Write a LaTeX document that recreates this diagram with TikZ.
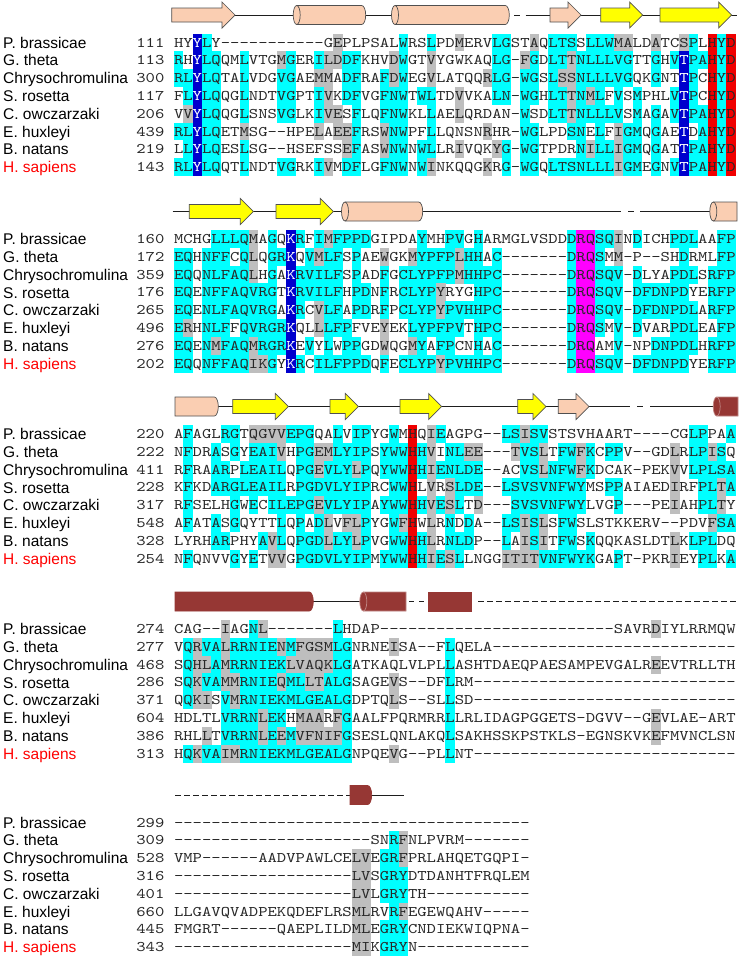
\documentclass[tikz,border=0pt]{standalone}
\usepackage{fontspec}
\newfontfamily\namefont{Liberation Sans}
\newfontfamily\seqfont{lmmono10-regular.otf}[FakeStretch=1.21]
\definecolor{shc}{RGB}{0,255,255}
\definecolor{shg}{RGB}{190,190,190}
\definecolor{shb}{RGB}{0,0,205}
\definecolor{shr}{RGB}{240,0,0}
\definecolor{shm}{RGB}{255,0,255}
\definecolor{seqtxt}{RGB}{40,40,40}
\definecolor{sspeach}{RGB}{250,206,178}
\definecolor{ssyellow}{RGB}{255,255,0}
\definecolor{ssdred}{RGB}{150,55,52}
\definecolor{ssedge}{RGB}{80,80,80}
\definecolor{sslinecol}{RGB}{30,30,30}
\tikzset{
  seqch/.style={inner sep=0pt,anchor=base,font=\seqfont\fontsize{14.7}{17.8}\selectfont},
  namesty/.style={inner sep=0pt,anchor=base west,font=\namefont\fontsize{15.5}{17}\selectfont},
  numsty/.style={inner sep=0pt,anchor=base east,text=seqtxt,font=\seqfont\fontsize{14.7}{17.8}\selectfont},
  ssl/.style={draw=sslinecol,line width=1pt},
  ssdash/.style={draw=sslinecol,line width=1pt,dash pattern=on 5.5pt off 3.5pt},
  ssshape/.style={line width=0.7pt}
}
\newcount\colno
\def\rowy{0}
\def\gobbleone#1{}
\def\firstofone#1{#1}
\def\doCell#1#2{%
  \if#2.\else\fill[sh#2] ({174+\the\colno*9.36},{-\rowy+8.95}) rectangle ++(9.42,-17.9);\fi
  \if#2b\def\tc{white}\else\def\tc{seqtxt}\fi
  \node[seqch,text=\tc] at ({178.68+\the\colno*9.36},{-\rowy-4.5}) {#1};%
  \global\advance\colno by 1\relax}
\def\procA#1#2\relax#3#4\relax{\doCell{#1}{#3}\ifx\relax#2\relax\expandafter\gobbleone\else\expandafter\firstofone\fi{\procA#2\relax#4\relax}}
\newcommand\seqline[7]{%
  \pgfmathsetmacro\rowy{#1+27.5+17.8*#2}%
  \node[namesty,text=#3] at (3,{-\rowy-5.6}) {#4};%
  \node[numsty] at (164.6,{-\rowy-4.5}) {#5};%
  \global\colno=0\relax
  \procA#6\relax#7\relax}
% secondary structure elements
\newcommand\ssarrow[4]{%
  \filldraw[ssshape,fill=#4,draw=ssedge] (#1,#3+7) -- (#2-13,#3+7) -- (#2-13,#3+13) -- (#2,#3) -- (#2-13,#3-13) -- (#2-13,#3-7) -- (#1,#3-7) -- cycle;}
\newcommand\cylEE[5]{%
  \filldraw[ssshape,fill=#4,draw=#5] (#1,#3+9.5) -- (#2-4,#3+9.5) arc[start angle=90,end angle=-90,x radius=4,y radius=9.5] -- (#1,#3-9.5) arc[start angle=270,end angle=90,x radius=3.5,y radius=9.5] -- cycle;
  \draw[ssshape,draw=#5] (#1,#3-9.5) arc[start angle=-90,end angle=90,x radius=3.5,y radius=9.5];}
\newcommand\cylFR[5]{%
  \filldraw[ssshape,fill=#4,draw=#5] (#1,#3+9.5) -- (#2-4,#3+9.5) arc[start angle=90,end angle=-90,x radius=4,y radius=9.5] -- (#1,#3-9.5) -- cycle;}
\newcommand\cylEF[5]{%
  \filldraw[ssshape,fill=#4,draw=#5] (#1,#3+9.5) -- (#2,#3+9.5) -- (#2,#3-9.5) -- (#1,#3-9.5) arc[start angle=270,end angle=90,x radius=3.5,y radius=9.5] -- cycle;
  \draw[ssshape,draw=#5] (#1,#3-9.5) arc[start angle=-90,end angle=90,x radius=3.5,y radius=9.5];}
\newcommand\cylFF[5]{%
  \filldraw[ssshape,fill=#4,draw=#5] (#1,#3+9.5) rectangle (#2,#3-9.5);}
\begin{document}
\begin{tikzpicture}[x=1pt,y=1pt]
\useasboundingbox (0,0) rectangle (742,-959);
\fill[white] (0,0) rectangle (742,-959);
% ---------- block 1 header ----------
\draw[ssl] (171.7,-15) -- (509,-15);
\draw[ssl] (514,-15) -- (520,-15);
\draw[ssl] (525.7,-15) -- (737,-15);
\ssarrow{171.7}{235}{-15}{sspeach}
\cylEE{296.7}{365.7}{-15}{sspeach}{ssedge}
\cylEE{395}{509.3}{-15}{sspeach}{ssedge}
\ssarrow{550}{581}{-15}{sspeach}
\ssarrow{600.7}{642.7}{-15}{ssyellow}
\ssarrow{660}{731.7}{-15}{ssyellow}
% ---------- block 2 header ----------
\draw[ssl] (172.7,-211.5) -- (621,-211.5);
\draw[ssl] (628,-211.5) -- (634,-211.5);
\draw[ssl] (640,-211.5) -- (714,-211.5);
\ssarrow{189.3}{253.3}{-211.5}{ssyellow}
\ssarrow{276}{333.3}{-211.5}{ssyellow}
\cylEE{345}{422.7}{-211.5}{sspeach}{ssedge}
\cylEF{713.3}{737}{-211.5}{sspeach}{ssedge}
% ---------- block 3 header ----------
\draw[ssl] (218,-406.5) -- (630,-406.5);
\draw[ssl] (637,-406.5) -- (643,-406.5);
\draw[ssl] (650,-406.5) -- (717,-406.5);
\cylFR{175}{218.3}{-406.5}{sspeach}{ssedge}
\ssarrow{232.7}{288.3}{-406.5}{ssyellow}
\ssarrow{330}{358.3}{-406.5}{ssyellow}
\ssarrow{400}{441.7}{-406.5}{ssyellow}
\ssarrow{517.7}{546}{-406.5}{ssyellow}
\ssarrow{558.3}{589}{-406.5}{sspeach}
\cylEF{716.7}{738}{-406.5}{ssdred}{ssdred!60!white}
% ---------- block 4 header ----------
\draw[ssl] (313,-601.5) -- (364,-601.5);
\cylFR{175}{313.3}{-601.5}{ssdred}{ssdred}
\cylEF{363.3}{406}{-601.5}{ssdred}{ssdred!60!white}
\draw[ssl] (409,-601.5) -- (414,-601.5);
\draw[ssl] (419,-601.5) -- (424,-601.5);
\cylFF{428.3}{471.7}{-601.5}{ssdred}{ssdred}
\draw[ssdash] (478,-601.5) -- (737,-601.5);
% ---------- block 5 header ----------
\draw[ssdash] (175,-795) -- (350,-795);
\draw[ssl] (370,-795) -- (404,-795);
\cylFR{350}{371.7}{-795}{ssdred}{ssdred}
% ---------- block 1 ----------
\seqline{15}{0}{black}{P. brassicae}{111}{HYYLY----- ------GEPL PSALWRSLPD MERVLGSTAQ LTSSLLWMAL DATCSPLHYD}{..bc...... .......g.. ....c..c.. g...cc..g. ccc.cccgg. .g..gc.rcr}
\seqline{15}{1}{black}{G. theta}{113}{RHYLQQMLVT GMGERILDDF KHVDWGTVYG WKAQLG-FGD LTTNLLLVGT TGHVTPAHYD}{c.bcc..c.. .gc..cggcc ...gc..g.. ....cc.gc. ccgcccccc. .c.cbccrcr}
\seqline{15}{2}{black}{Chrysochromulina}{300}{RLYLQTALVD GVGAEMMADF RAFDWEGVLA TQQRLG-WGS LSSNLLLVGQ KGNTTPCHYD}{ccbcc..c.. .cc..gg.cc ..cgc..g.. ...gcc.cc. cggcccccc. .c..bc.rcr}
\seqline{15}{3}{black}{S. rosetta}{117}{FLYLQQGLND TVGPTIVKDF VGFNWTWLTD VVKALN-WGH LTTNMLFVSM PHLVTPCHYD}{.cbcc..c.. .cc..cg.cc ..ccc.cc.. g...cc.cc. ccgcgc.c.c ...cbc.rcr}
\seqline{15}{4}{black}{C. owczarzaki}{206}{VVYLQQGLSN SVGLKIVESF LQFNWKLLAE LQRDAN-WSD LTTNLLLVSM AGAVTPAHYD}{.gbcc..c.. .cc..cgg.c ..ccc..c.. g......c.. ccgccccc.c .c.cbccrcr}
\seqline{15}{5}{black}{E. huxleyi}{439}{RLYLQETMSG --HPELAEEF RSWNWPFLLQ NSNRHR-WGL PDSNELFIGM QGAETDAHYD}{ccbcc..g.. .....g.ggc ..gcc..c.. ...g...cc. ..cc.c.gcc .c..b.crcr}
\seqline{15}{6}{black}{B. natans}{219}{LLYLQESLSG --HSEFSSEF ASWNWNWLLR IVQKYG-WGT PDRNILLIGM QGATTPAHYD}{.cbcc..c.. ........gc ..gcc.cc.. g...gc.cc. ...cgccgcc .c..bccrcr}
\seqline{15}{7}{red}{H. sapiens}{143}{RLYLQQTLND TVGRKIVMDF LGFNWNWINK QQGKRG-WGQ LTSNLLLIGM EGNVTPAHYD}{ccbcc..c.. .cc..cg.cc ..ccc.cg.. ...g.c.cc. cccccccgcc .c.cbccrcr}
% ---------- block 2 ----------
\seqline{211.5}{0}{black}{P. brassicae}{160}{MCHGLLLQMA GQKRFIMFPP DGIPDAYMHP VGHARMGLVS DDDRQSQIND ICHPDLAAFP}{....ccccg. c.bc.cgccc c.....c..c c.c....... ..cmmccg.c ...ccc..cc}
\seqline{211.5}{1}{black}{G. theta}{172}{EQHNFFCQLQ GRKQVMLFSP AEWGKMYPFP LHHAC----- --DRQSMM-P --SHDRMLFP}{cc.ccc.cg. ccb.cgcc.c ..g..gcccc gcc.c..... ..cmmc.g.. ....c...cc}
\seqline{211.5}{2}{black}{Chrysochromulina}{359}{EQQNLFAQLH GAKRVILFSP ADFGCLYPFP MHHPC----- --DRQSQV-D LYAPDLSRFP}{cc.cccccg. c.bccccc.c ..c.cccccc gcccc..... ..cmmccc.c ...ccc.ccc}
\seqline{211.5}{3}{black}{S. rosetta}{176}{EQENFFAQVR GTKRVILFHP DNFRCLYPYR YGHPC----- --DRQSQV-D FDNPDYERFP}{cc.ccccccc c.bccccc.c c.c.ccccg. ..ccc..... ..cmmccc.c ccccc..ccc}
\seqline{211.5}{4}{black}{C. owczarzaki}{265}{EQENLFAQVR GAKRCVLFAP DRFPCLYPYP VHHPC----- --DRQSQV-D FDNPDLARFP}{cc.ccccccc c.bc.gcc.c c.c.ccccgc ccccc..... ..cmmccc.c cccccc.ccc}
\seqline{211.5}{5}{black}{E. huxleyi}{496}{ERHNLFFQVR GRKQLLLFPF VEYEKLYPFP VTHPC----- --DRQSMV-D VARPDLEAFP}{cg.ccc.ccc ccb..gccc. ..g..ccccc c.ccc..... ..cmmc.c.c ...ccc..cc}
\seqline{211.5}{6}{black}{B. natans}{276}{EQENMFAQMR GRKEVYLWPP GDWQGMYAFP CNHAC----- --DRQAMV-N PDNPDLHRFP}{cc.cgcccgc ccb.c.c.cc ..g..gc.cc ..c.c..... ..cmm..c.. .ccccc.ccc}
\seqline{211.5}{7}{red}{H. sapiens}{202}{EQQNFFAQIK GYKRCILFPP DQFECLYPYP VHHPC----- --DRQSQV-D FDNPDYERFP}{cc.cccccgg c.bc.ccccc c.c.ccccgc ccccc..... ..cmmccc.c ccccc..ccc}
% ---------- block 3 ----------
\seqline{406.5}{0}{black}{P. brassicae}{220}{AFAGLRGTQG VVEPGQALVI PYGWMHQIEA GPG--LSISV STSVHAART- ---CGLPPAA}{.c...cc.gg ggccc..c.c c..c.r.gc. .....ccgcc .......... .....cc..c}
\seqline{406.5}{1}{black}{G. theta}{222}{NFDRASGYEA IVHPGEMLYI PSYWWHHVIN LEE---TVSL TFWFKCPPV- -GDLRLPISQ}{.c..c.c.cc cg.ccggccc c.cccrcg.c cgg...gccg .ccgc.cc.. ...g.ccgc.}
\seqline{406.5}{2}{black}{Chrysochromulina}{411}{RFRAARPLEA ILQPGEVLYL PQYWWHHIEN LDE--ACVSL NFWFKDCAK- PEKVVLPLSA}{.c..cc.ccc cc.ccgcccg c.cccrcgcc ccc....ccg cccgc..... ...g.ccccc}
\seqline{406.5}{3}{black}{S. rosetta}{228}{KFKDARGLEA ILRPGDVLYI PRCWWHLVRS LDE--LSVSV NFWYMSPPAI AEDIRFPLTA}{.c..cccccc cc.ccccccc c..ccr.g.g ccc..ccccc cccc..cc.. ...g..ccgc}
\seqline{406.5}{4}{black}{C. owczarzaki}{317}{RFSELHGWEC ILEPGEVLYI PAYWWHHVES LTD---SVSV NFWYLVGP-- -PEIAHPLTY}{.c....c.c. cccccgcccc c.cccrcgcg c.g...cccc cccc...c.. ...g..ccg.}
\seqline{406.5}{5}{black}{E. huxleyi}{548}{AFATASGQYT TLQPADLVFL PYGWFHWLRN DDA--LSISL SFWSLSTKKE RV--PDVFSA}{.c..c.c... .c.c.cg.gg c..cgr.g.c .c...ccgcg .cc....... .......gcc}
\seqline{406.5}{6}{black}{B. natans}{328}{LYRHARPHYA VLQPGDLLYL PVGWWHHLRN LDP--LAISI TFWSKQQKAS LDTLKLPLDQ}{....cc...c gc.cccgccg c..ccrcg.c cc...c.gcg .cc.c..... ...g.ccc..}
\seqline{406.5}{7}{red}{H. sapiens}{254}{NFQNVVGYET VVGPGDVLYI PMYWWHHIES LLNGGITITV NFWYKGAPT- PKRIEYPLKA}{.c....c.c. gg.ccccccc c.cccrcgcg c....ggggc ccccc..c.. ...g..cc.c}
% ---------- block 4 ----------
\seqline{601.5}{0}{black}{P. brassicae}{274}{CAG--IAGNL -------LHD AP-------- ---------- -------SAV RDIYLRRMQW}{.....g..cg .......c.. .......... .......... .......... .g........}
\seqline{601.5}{1}{black}{G. theta}{277}{VQRVALRRNI ENMFGSMLGN RNEISA--FL QELA------ ---------- ----------}{.cgccgcccc cgcggggcc. ...g.....c .......... .......... ..........}
\seqline{601.5}{2}{black}{Chrysochromulina}{468}{SQHLAMRRNI EKLVAQKLGA TKAQLVLPLL ASHTDAEQPA ESAMPEVGAL REEVTRLLTH}{.cggcgcccc ccgggggcc. .........c .......... .......... .g........}
\seqline{601.5}{3}{black}{S. rosetta}{286}{SQKVAMMRNI EQMLLTALGS AGEVS--DFL RM-------- ---------- ----------}{.cgccggccc cgccggccc. ...g.....c .......... .......... ..........}
\seqline{601.5}{4}{black}{C. owczarzaki}{371}{QQKISVMRNI EKMLGEALGD PTQLS--SLL SD-------- ---------- ----------}{.cgg.cgccc ccccccccc. ...g.....c .......... .......... ..........}
\seqline{601.5}{5}{black}{E. huxleyi}{604}{HDLTLVRRNL EKHMAARFGA ALFPQRMRRL LRLIDAGPGG ETS-DGVV-- GEVLAE-ART}{.....ccccg cc.ggg.gc. .........c .......... .......... .g........}
\seqline{601.5}{6}{black}{B. natans}{386}{RHLLTVRRNL EEMVFNIFGS ESLQNLAKQL SAKHSSKPST KLS-EGNSKV KEFMVNCLSN}{...g.ccccg cgcgggggc. .........c .......... .......... .g........}
\seqline{601.5}{7}{red}{H. sapiens}{313}{HQKVAIMRNI EKMLGEALGN PQEVG--PLL NT-------- ---------- ----------}{.cgccggccc ccccccccc. ...g.....c .......... .......... ..........}
% ---------- block 5 ----------
\seqline{795}{0}{black}{P. brassicae}{299}{---------- ---------- ---------- --------}{.......... .......... .......... ........}
\seqline{795}{1}{black}{G. theta}{309}{---------- ---------- -SNRFNLPVR M-------}{.......... .......... ...cg..... ........}
\seqline{795}{2}{black}{Chrysochromulina}{528}{VMP------A ADVPAWLCEL VEGRFPRLAH QETGQPI-}{.......... .........g g.ccg..... ........}
\seqline{795}{3}{black}{S. rosetta}{316}{---------- ---------L VSGRYDTDAN HTFRQLEM}{.......... .........g g.ccc..... ........}
\seqline{795}{4}{black}{C. owczarzaki}{401}{---------- ---------L VLGRYTH--- --------}{.......... .........g g.ccc..... ........}
\seqline{795}{5}{black}{E. huxleyi}{660}{LLGAVQVADP EKQDEFLRSM LRVRFEGEWQ AHV-----}{.......... .........g g..cg..... ........}
\seqline{795}{6}{black}{B. natans}{445}{FMGRT----- -QAEPLILDM LEGRYCNDIE KWIQPNA-}{.......... .........g g.ccc..... ........}
\seqline{795}{7}{red}{H. sapiens}{343}{---------- ---------M IKGRYN---- --------}{.......... .........g g.ccc..... ........}
\end{tikzpicture}
\end{document}
